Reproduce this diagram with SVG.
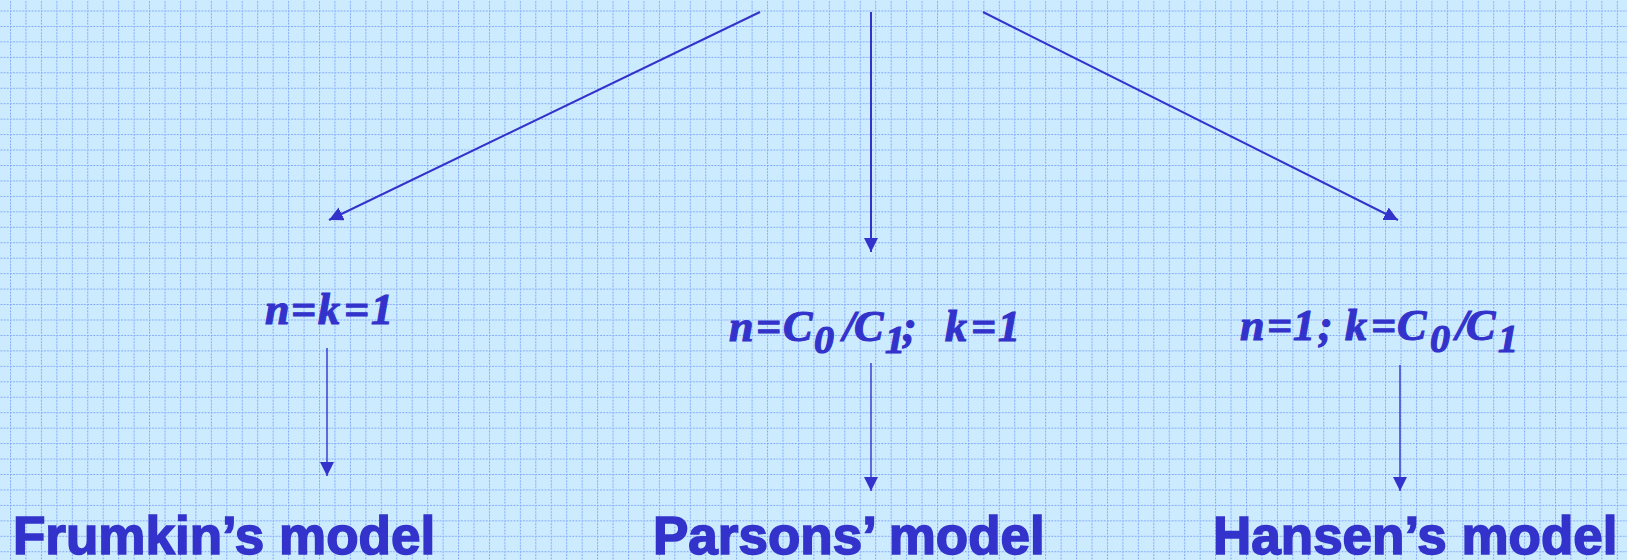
<svg xmlns="http://www.w3.org/2000/svg" width="1627" height="560" viewBox="0 0 1627 560">
<style>
.f{fill:#3333CC;stroke:#3333CC;stroke-width:1.2;font-family:"Liberation Serif","Times New Roman",serif;font-weight:bold;font-style:italic;font-size:44px}
.s{font-size:40px}
.m{fill:#3333CC;stroke:#3333CC;stroke-width:1.6;font-family:"Liberation Sans",Arial,sans-serif;font-weight:bold;font-size:53px}
.c{stroke:#3333CC;fill:none}
.t{stroke-width:2}
.b{stroke-width:1.4}
</style>
<defs>
<pattern id="grid" x="10" y="10.5" width="15.45" height="15.45" patternUnits="userSpaceOnUse">
<line x1="0" y1="0" x2="15.45" y2="0" stroke="#779FF8" stroke-width="2" stroke-dasharray="1.7 1.4"/>
<line x1="0" y1="0" x2="0" y2="15.45" stroke="#779FF8" stroke-width="2" stroke-dasharray="1.7 1.4"/>
</pattern>
<marker id="ah" markerUnits="userSpaceOnUse" markerWidth="15" markerHeight="15" refX="14" refY="7" orient="auto" viewBox="0 0 15 15">
<path d="M0,0 L14,7 L0,14 z" fill="#3333CC"/>
</marker>
</defs>
<rect width="1627" height="560" fill="#CCEBFF"/>
<rect width="1627" height="560" fill="url(#grid)"/>
<g id="connectors">
<line class="c t" x1="760" y1="12" x2="329" y2="220" marker-end="url(#ah)"/>
<line class="c t" x1="871" y1="12" x2="871" y2="252" marker-end="url(#ah)"/>
<line class="c t" x1="983" y1="12" x2="1398" y2="220" marker-end="url(#ah)"/>
<line class="c b" x1="327" y1="348" x2="327" y2="476" marker-end="url(#ah)"/>
<line class="c b" x1="871" y1="363" x2="871" y2="491" marker-end="url(#ah)"/>
<line class="c b" x1="1400" y1="365" x2="1400" y2="491" marker-end="url(#ah)"/>
</g>
<g id="cond-frumkin">
<text class="f" y="324"><tspan x="265">n</tspan><tspan x="291">=</tspan><tspan x="318">k</tspan><tspan x="344">=</tspan><tspan x="371">1</tspan></text>
</g>
<g id="cond-parsons">
<text class="f" y="341"><tspan x="729">n</tspan><tspan x="756">=</tspan><tspan x="783">C</tspan><tspan class="s" x="814" dy="12">0</tspan><tspan x="843" dy="-12">/</tspan><tspan x="854">C</tspan><tspan class="s" x="885" dy="12">1</tspan><tspan x="902" dy="-12">;</tspan><tspan x="945">k</tspan><tspan x="971">=</tspan><tspan x="998">1</tspan></text>
</g>
<g id="cond-hansen">
<text class="f" y="340"><tspan x="1240">n</tspan><tspan x="1267">=</tspan><tspan x="1293">1</tspan><tspan x="1318">;</tspan><tspan x="1345">k</tspan><tspan x="1371">=</tspan><tspan x="1397">C</tspan><tspan class="s" x="1430" dy="12">0</tspan><tspan x="1456" dy="-12">/</tspan><tspan x="1466">C</tspan><tspan class="s" x="1498" dy="12">1</tspan></text>
</g>
<g id="frumkin">
<text class="m" x="13" y="554">Frumkin’s model</text>
</g>
<g id="parsons">
<text class="m" x="653" y="554">Parsons’ model</text>
</g>
<g id="hansen">
<text class="m" x="1213" y="554">Hansen’s model</text>
</g>
</svg>
